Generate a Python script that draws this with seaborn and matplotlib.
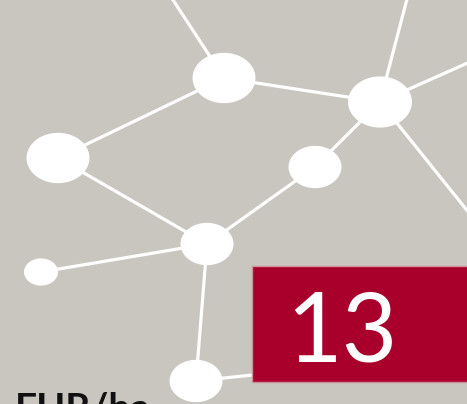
import pandas as pd
import seaborn as sns
import matplotlib.pyplot as plt
from matplotlib.path import Path
from matplotlib.patches import Rectangle
import numpy as np

# node positions (pixel space of the picture) and their widths
node_names = ['A', 'B', 'C', 'D', 'E', 'F', 'G']
node_x = [224, 380, 58, 315, 207, 41, 196]
node_y = [78, 102, 158, 167, 244, 272, 381]
node_w = [63, 64, 63, 53, 53, 34, 53]

# off-frame anchor points for the edges that leave the picture
out_names = ['o1', 'o2', 'o3', 'o4', 'o5']
out_x = [160, 412, 490, 490, 262]
out_y = [-20, -20, 53, 239, 374]

edges = [('A', 'o1'), ('B', 'o2'), ('B', 'o3'), ('B', 'o4'), ('A', 'B'),
         ('A', 'C'), ('C', 'E'), ('D', 'B'), ('D', 'E'), ('E', 'F'),
         ('E', 'G'), ('G', 'o5')]

label_value = '13'
label_unit = 'EUR/ha'

pos = {n: (x, y) for n, x, y in zip(node_names + out_names,
                                     node_x + out_x, node_y + out_y)}
rows = []
for i, (a, b) in enumerate(edges):
    for n in (a, b):
        rows.append({'edge': i, 'x': pos[n][0], 'y': pos[n][1]})
df_edges = pd.DataFrame(rows)
df_nodes = pd.DataFrame({'node': node_names, 'x': node_x, 'y': node_y,
                         'w': node_w})

# slightly wide ellipse marker (nodes look stretched horizontally)
t = np.linspace(0, 2 * np.pi, 60)
ellipse = Path(np.column_stack([np.cos(t), 0.8 * np.sin(t)]), closed=True)

bg = '#C9C6BF'
fig = plt.figure(figsize=(4.67, 4.04), dpi=100, facecolor=bg)
ax = fig.add_axes([0, 0, 1, 1])
ax.set_facecolor(bg)

sns.lineplot(data=df_edges, x='x', y='y', units='edge', estimator=None,
             sort=False, color='white', linewidth=2.3, ax=ax)
sns.scatterplot(data=df_nodes, x='x', y='y', marker=ellipse,
                s=(df_nodes['w'] * 0.72) ** 2, color='white',
                edgecolor='none', linewidth=0, zorder=3, ax=ax)

ax.add_patch(Rectangle((252, 266), 230, 116, facecolor='#A8002A',
                       edgecolor='#C98F98', linewidth=1.0, zorder=4))
ax.text(342, 362, label_value, color='white', fontsize=69,
        family='Lato', ha='center', va='baseline', zorder=5)
ax.text(15, 421, label_unit, color='#111111', fontsize=28,
        family='Lato', fontweight='bold', ha='left', va='baseline',
        zorder=5, clip_on=False)

ax.set_xlim(0, 467)
ax.set_ylim(404, 0)
ax.set_axis_off()

fig.savefig('out.png', dpi=100, facecolor=bg)
